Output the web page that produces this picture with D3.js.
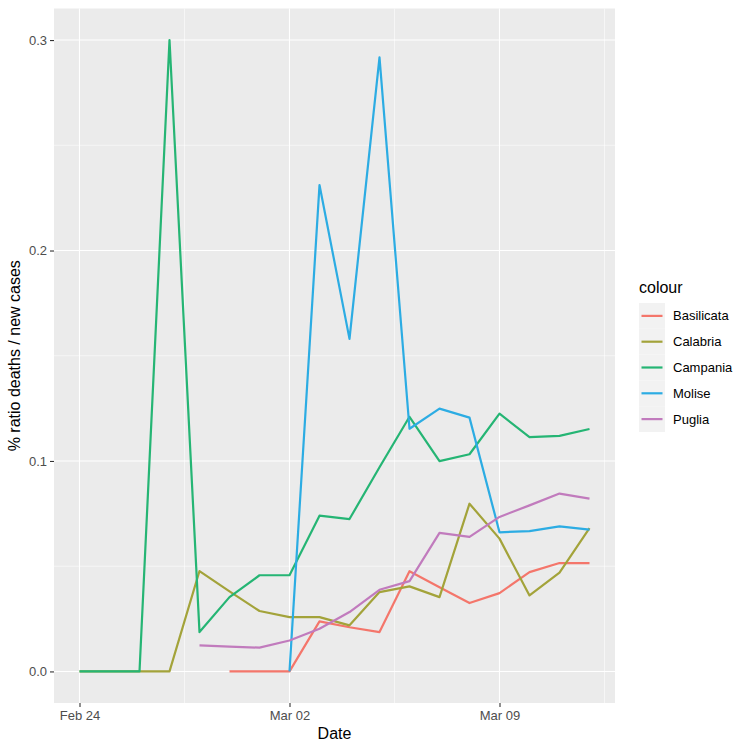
<!DOCTYPE html>
<html>
<head>
<meta charset="utf-8">
<script src="https://cdn.jsdelivr.net/npm/d3@7"></script>
<style>
  body { margin: 0; background: #fff; }
  text { font-family: "Liberation Sans", Arial, sans-serif; }
</style>
</head>
<body>
<svg id="chart" width="751" height="751"></svg>
<script>
// dates: Feb 24 .. Mar 12, one per day
const dates = d3.utcDay.range(new Date(Date.UTC(2020, 1, 24)), new Date(Date.UTC(2020, 2, 13)));

const regions = ["Basilicata", "Calabria", "Campania", "Molise", "Puglia"];

const basilicata = [null, null, null, null, null, 0, 0, 0, 0.0238, 0.021, 0.0187, 0.0476, 0.040, 0.0325, 0.0372, 0.0472, 0.0515, 0.0515];
const calabria = [0, 0, 0, 0, 0.0477, 0.038, 0.0287, 0.0258, 0.0258, 0.0219, 0.0377, 0.0404, 0.0353, 0.0797, 0.0631, 0.0361, 0.0469, 0.0681];
const campania = [0, 0, 0, 0.3, 0.0187, 0.0353, 0.0457, 0.0457, 0.074, 0.0724, 0.097, 0.121, 0.0999, 0.1032, 0.1225, 0.1113, 0.1119, 0.1152];
const molise = [null, null, null, null, null, null, null, 0, 0.2311, 0.158, 0.2918, 0.1153, 0.1249, 0.1206, 0.0661, 0.0667, 0.0689, 0.0674];
const puglia = [null, null, null, null, 0.0124, 0.0118, 0.0113, 0.0147, 0.0203, 0.0282, 0.0388, 0.0429, 0.0658, 0.0639, 0.0734, 0.0789, 0.0845, 0.0821];

const yTicks = [0.0, 0.1, 0.2, 0.3];
const xTicks = [dates[0], dates[7], dates[14]];

const colours = ["#F4766B", "#A3A33A", "#25B574", "#2CACE3", "#C17BBD"];

const seriesValues = [basilicata, calabria, campania, molise, puglia];
const series = regions.map((name, i) => ({
  name: name,
  values: dates.map((d, j) => ({ date: d, v: seriesValues[i][j] })).filter(p => p.v !== null)
}));

const svg = d3.select("#chart"),
  margin = { top: 8.5, right: 136, bottom: 48, left: 54 },
  width = +svg.attr("width") - margin.left - margin.right,
  height = +svg.attr("height") - margin.top - margin.bottom;

const g = svg.append("g")
  .attr("transform", `translate(${margin.left},${margin.top})`);

// ggplot style 5% expansion
const xExt = d3.extent(dates);
const xPad = (xExt[1] - xExt[0]) * 0.05;
const x = d3.scaleUtc()
  .domain([new Date(+xExt[0] - xPad), new Date(+xExt[1] + xPad)])
  .range([0, width]);

const allVals = seriesValues.flat().filter(v => v !== null);
const yExt = d3.extent(allVals);
const yPad = (yExt[1] - yExt[0]) * 0.05;
const y = d3.scaleLinear()
  .domain([yExt[0] - yPad, yExt[1] + yPad])
  .range([height, 0]);

const color = d3.scaleOrdinal().domain(regions).range(colours);

// panel
g.append("rect")
  .attr("width", width)
  .attr("height", height)
  .attr("fill", "#EBEBEB");

// minor grid
const yMinor = yTicks.slice(0, -1).map((t, i) => (t + yTicks[i + 1]) / 2);
const xMinor = xTicks.slice(0, -1).map((t, i) => new Date((+t + +xTicks[i + 1]) / 2));
xMinor.push(new Date(+xTicks[2] + (xTicks[2] - xTicks[1]) / 2));

g.append("g").selectAll("line")
  .data(yMinor)
  .join("line")
  .attr("x1", 0).attr("x2", width)
  .attr("y1", d => y(d)).attr("y2", d => y(d))
  .attr("stroke", "#fff").attr("stroke-width", 0.55);

g.append("g").selectAll("line")
  .data(xMinor.filter(d => x(d) >= 0 && x(d) <= width))
  .join("line")
  .attr("y1", 0).attr("y2", height)
  .attr("x1", d => x(d)).attr("x2", d => x(d))
  .attr("stroke", "#fff").attr("stroke-width", 0.55);

// major grid
g.append("g").selectAll("line")
  .data(yTicks)
  .join("line")
  .attr("x1", 0).attr("x2", width)
  .attr("y1", d => y(d)).attr("y2", d => y(d))
  .attr("stroke", "#fff").attr("stroke-width", 1.1);

g.append("g").selectAll("line")
  .data(xTicks)
  .join("line")
  .attr("y1", 0).attr("y2", height)
  .attr("x1", d => x(d)).attr("x2", d => x(d))
  .attr("stroke", "#fff").attr("stroke-width", 1.1);

// lines
const line = d3.line()
  .x(d => x(d.date))
  .y(d => y(d.v));

g.append("g").selectAll("path")
  .data(series)
  .join("path")
  .attr("d", d => line(d.values))
  .attr("fill", "none")
  .attr("stroke", d => color(d.name))
  .attr("stroke-width", 2.2)
  .attr("stroke-linejoin", "round");

// axes
const xAxis = g.append("g")
  .attr("transform", `translate(0,${height})`)
  .call(d3.axisBottom(x).tickValues(xTicks).tickFormat(d3.utcFormat("%b %d")).tickSize(4).tickPadding(4));

const yAxis = g.append("g")
  .call(d3.axisLeft(y).tickValues(yTicks).tickFormat(d3.format(".1f")).tickSize(4).tickPadding(3));

[xAxis, yAxis].forEach(a => {
  a.select(".domain").remove();
  a.selectAll(".tick line").attr("stroke", "#333").attr("stroke-width", 1.1);
  a.selectAll(".tick text")
    .attr("fill", "#4D4D4D")
    .style("font-size", "13px")
    .style("font-family", "'Liberation Sans', Arial, sans-serif");
});

// axis titles
svg.append("text")
  .attr("x", margin.left + width / 2)
  .attr("y", 739)
  .attr("text-anchor", "middle")
  .style("font-size", "16px")
  .text("Date");

svg.append("text")
  .attr("transform", `translate(20,${margin.top + height / 2}) rotate(-90)`)
  .attr("text-anchor", "middle")
  .style("font-size", "16px")
  .text("% ratio deaths / new cases");

// legend
const legend = svg.append("g")
  .attr("transform", "translate(639,303)");

legend.append("text")
  .attr("x", 0)
  .attr("y", -10)
  .style("font-size", "16px")
  .text("colour");

const keyH = 25.8;
const items = legend.selectAll(".item")
  .data(regions)
  .join("g")
  .attr("class", "item")
  .attr("transform", (d, i) => `translate(0,${i * keyH})`);

items.append("rect")
  .attr("width", 26)
  .attr("height", keyH)
  .attr("fill", "#F2F2F2");

items.append("line")
  .attr("x1", 2.5).attr("x2", 23.5)
  .attr("y1", keyH / 2).attr("y2", keyH / 2)
  .attr("stroke", d => color(d))
  .attr("stroke-width", 2.2);

items.append("text")
  .attr("x", 34)
  .attr("y", keyH / 2 + 4.5)
  .style("font-size", "13px")
  .text(d => d);
</script>
</body>
</html>
